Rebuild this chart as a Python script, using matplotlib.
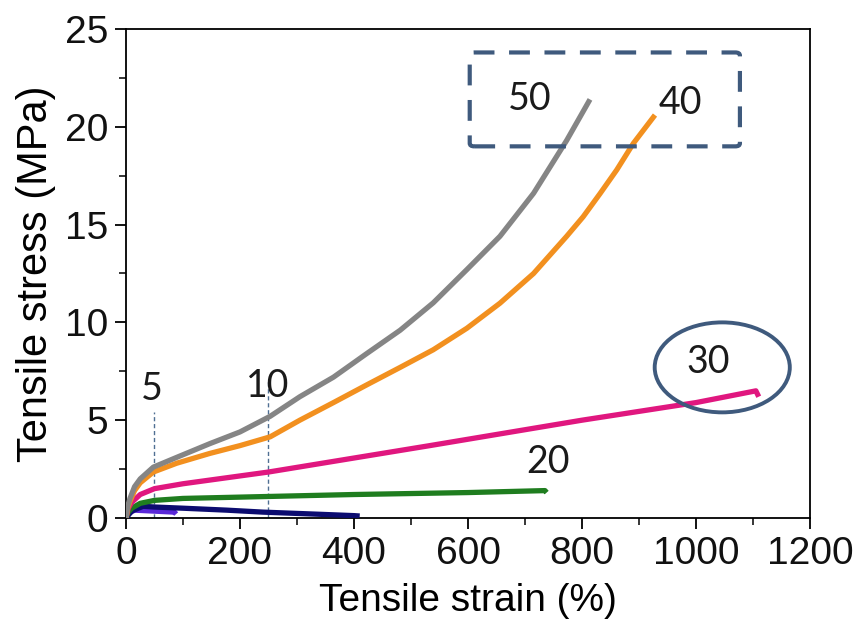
import matplotlib
matplotlib.use("Agg")
import matplotlib.pyplot as plt
from matplotlib.patches import Ellipse, FancyBboxPatch
from matplotlib.ticker import MultipleLocator

# tensile curves, strain in %, stress in MPa
strain_50 = [0, 3, 7, 15, 25, 48, 89, 147, 200, 253, 305, 364, 422, 481, 539, 598,
             656, 715, 773, 814]
stress_50 = [0, 0.6, 1.0, 1.6, 2.0, 2.6, 3.1, 3.8, 4.4, 5.2, 6.2, 7.2, 8.4, 9.6, 11.0, 12.7,
             14.4, 16.6, 19.3, 21.4]

strain_40 = [0, 3, 7, 15, 25, 48, 89, 147, 200, 253, 305, 364, 422, 481, 539, 598,
             656, 715, 773, 802, 832, 861, 890, 928]
stress_40 = [0, 0.5, 0.85, 1.4, 1.8, 2.35, 2.8, 3.3, 3.7, 4.15, 5.0, 5.9, 6.8, 7.7, 8.6, 9.7,
             10.98, 12.5, 14.4, 15.4, 16.6, 17.8, 19.15, 20.6]

strain_30 = [0, 4, 10, 25, 50, 100, 250, 533, 800, 1000, 1105, 1110]
stress_30 = [0, 0.5, 0.8, 1.2, 1.5, 1.75, 2.35, 3.7, 5.0, 5.9, 6.5, 6.2]

strain_20 = [0, 4, 10, 25, 50, 100, 250, 400, 600, 735, 738]
stress_20 = [0, 0.3, 0.5, 0.75, 0.9, 1.0, 1.1, 1.2, 1.3, 1.4, 1.3]

strain_10 = [0, 10, 30, 50, 100, 177, 240, 330, 400, 410]
stress_10 = [0, 0.35, 0.6, 0.56, 0.5, 0.4, 0.3, 0.2, 0.12, 0.1]

strain_5 = [0, 5, 15, 50, 85, 88]
stress_5 = [0, 0.25, 0.4, 0.35, 0.3, 0.2]

curves = [
    (strain_5, stress_5, "#5a28d8"),
    (strain_10, stress_10, "#0c0c70"),
    (strain_20, stress_20, "#1f7d1f"),
    (strain_30, stress_30, "#e0177f"),
    (strain_40, stress_40, "#f2901f"),
    (strain_50, stress_50, "#858585"),
]

# sample labels: text, x, y
labels = [("50", 709, 21.4), ("40", 972, 21.2), ("30", 1021, 8.0),
          ("20", 740, 2.85), ("10", 249, 6.75), ("5", 46, 6.6)]

guide_x = [50, 250]
guide_top = [5.4, 7.0]

tick_font = ["Liberation Sans", "DejaVu Sans"]
label_font = ["Lato", "DejaVu Sans"]

fig = plt.figure(figsize=(8.6, 6.33), dpi=100)
ax = fig.add_axes([0.1465, 0.1817, 0.7954, 0.7725])

for x, y, c in curves:
    ax.plot(x, y, color=c, lw=3.8, solid_capstyle="butt", solid_joinstyle="round", zorder=3)

for gx, gt in zip(guide_x, guide_top):
    ax.plot([gx, gx], [0, gt], color="#4f6f93", lw=1.0, ls=(0, (3, 2)), zorder=2)

for txt, x, y in labels:
    ax.text(x, y, txt, fontsize=27, family=label_font, ha="center", va="center",
            color="#1a1a1a", zorder=5)

# dashed box around 50 / 40
box = FancyBboxPatch((603, 19.0), 474, 4.8, boxstyle="round,pad=0,rounding_size=8",
                     fill=False, ec="#3f5a7d", lw=3.0, ls=(0, (5, 3.5)),
                     mutation_aspect=0.02, zorder=4)
ax.add_patch(box)

# ellipse around 30
ax.add_patch(Ellipse((1046, 7.7), 237, 4.6, fill=False, ec="#3f5a7d", lw=2.8, zorder=4))

ax.set_xlim(0, 1200)
ax.set_ylim(0, 25)
ax.xaxis.set_major_locator(MultipleLocator(200))
ax.xaxis.set_minor_locator(MultipleLocator(100))
ax.yaxis.set_major_locator(MultipleLocator(5))
ax.yaxis.set_minor_locator(MultipleLocator(2.5))
ax.tick_params(which="major", direction="out", length=8, width=1.3, pad=5)
ax.tick_params(which="minor", direction="out", length=5, width=1.1)
for lab in ax.get_xticklabels():
    lab.set_fontsize(28)
    lab.set_family(tick_font)
    lab.set_color("#111111")
for lab in ax.get_yticklabels():
    lab.set_fontsize(28)
    lab.set_family(tick_font)
    lab.set_color("#111111")
for sp in ax.spines.values():
    sp.set_linewidth(1.3)

ax.set_xlabel("Tensile strain (%)", fontsize=28, family=tick_font, labelpad=8)
ax.set_ylabel("Tensile stress (MPa)", fontsize=30, family=tick_font, labelpad=6)

fig.savefig("out.png", dpi=100)
